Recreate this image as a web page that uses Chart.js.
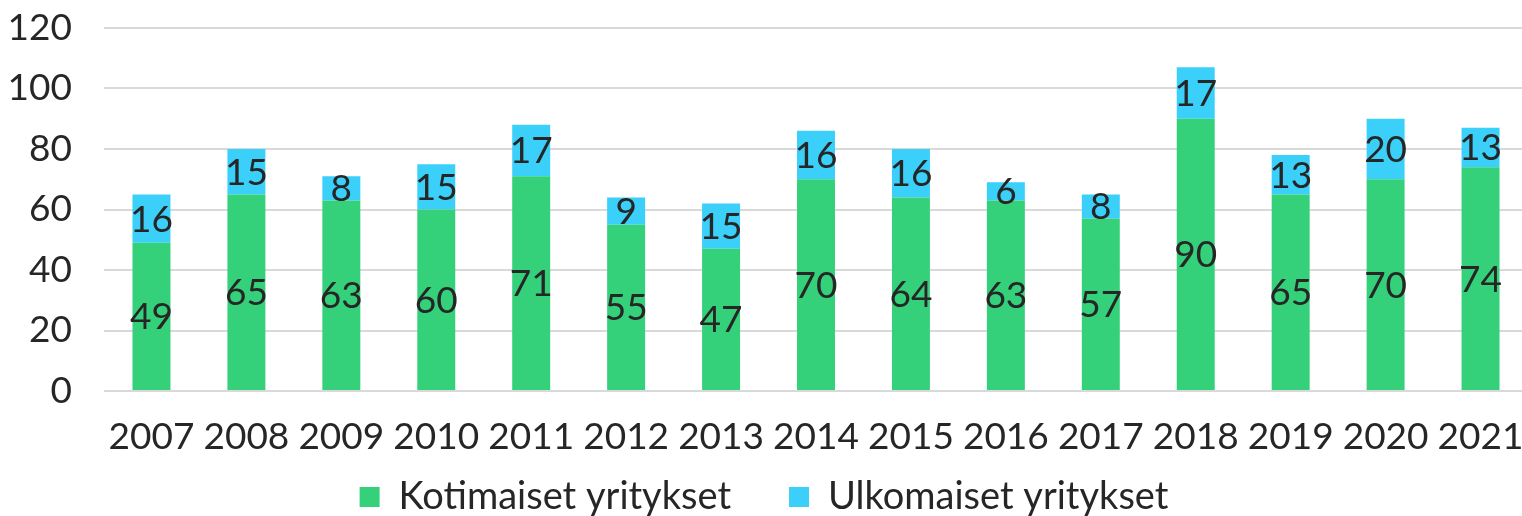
<!DOCTYPE html>
<html>
<head>
<meta charset="utf-8">
<script src="https://cdn.jsdelivr.net/npm/chart.js@4/dist/chart.umd.min.js"></script>
<style>
  html, body { margin: 0; padding: 0; background: #fff; overflow: hidden; }
  /* the original plot runs a few pixels past the right edge */
  #wrap { width: 1528px; height: 516px; }
</style>
</head>
<body>
<div id="wrap"><canvas id="chart"></canvas></div>
<script>
const years = ['2007', '2008', '2009', '2010', '2011', '2012', '2013', '2014', '2015', '2016', '2017', '2018', '2019', '2020', '2021'];
const domestic = [49, 65, 63, 60, 71, 55, 47, 70, 64, 63, 57, 90, 65, 70, 74];
const foreign = [16, 15, 8, 15, 17, 9, 15, 16, 16, 6, 8, 17, 13, 20, 13];
const yTicks = [0, 20, 40, 60, 80, 100, 120];

const FONT = 'Lato, "Noto Sans", sans-serif';
const TEXT = '#262626';

// draw the value in the middle of each bar segment
const segmentLabels = {
    id: 'segmentLabels',
    afterDatasetsDraw(chart) {
        const ctx = chart.ctx;
        ctx.save();
        ctx.font = '37px ' + FONT;
        ctx.fillStyle = TEXT;
        ctx.textAlign = 'center';
        ctx.textBaseline = 'middle';
        chart.data.datasets.forEach((ds, i) => {
            chart.getDatasetMeta(i).data.forEach((bar, j) => {
                const mid = (bar.y + bar.base) / 2;
                ctx.fillText(String(ds.data[j]), bar.x, mid + 1);
            });
        });
        ctx.restore();
    }
};

// wide gap between legend items but a compact legend box
const LEGEND_PAD = 58;
const LEGEND_TOP = 29;
const compactLegend = {
    id: 'compactLegend',
    afterInit(chart) {
        const lg = chart.legend;
        const fit = lg.fit.bind(lg);
        const draw = lg.draw.bind(lg);
        lg.fit = function () { fit(); this.height = 67; };
        lg.draw = function () {
            const t = this.top;
            this.top = t - (LEGEND_PAD - LEGEND_TOP);
            draw();
            this.top = t;
        };
    }
};

new Chart(document.getElementById('chart'), {
    type: 'bar',
    data: {
        labels: years,
        datasets: [
            {
                label: 'Kotimaiset yritykset',
                data: domestic,
                backgroundColor: '#34D17A'
            },
            {
                label: 'Ulkomaiset yritykset',
                data: foreign,
                backgroundColor: '#3AD0FA'
            }
        ]
    },
    options: {
        responsive: true,
        maintainAspectRatio: false,
        animation: false,
        layout: { padding: { top: 28, right: 0, left: 0, bottom: 0 } },
        datasets: {
            bar: { categoryPercentage: 1.0, barPercentage: 0.4 }
        },
        plugins: {
            legend: {
                position: 'bottom',
                labels: {
                    font: { family: FONT, size: 38 },
                    color: TEXT,
                    boxWidth: 20,
                    boxHeight: 20,
                    padding: LEGEND_PAD
                }
            },
            tooltip: { enabled: false }
        },
        scales: {
            x: {
                stacked: true,
                grid: { display: false, drawTicks: false },
                border: { display: false },
                afterFit(axis) {
                    axis.height = 58;
                    axis.paddingLeft = 0;
                    axis.paddingRight = 0;
                },
                ticks: {
                    font: { family: FONT, size: 37 },
                    color: TEXT,
                    maxRotation: 0,
                    autoSkip: false,
                    padding: 24
                }
            },
            y: {
                stacked: true,
                min: 0,
                max: 120,
                afterBuildTicks(axis) {
                    axis.ticks = yTicks.map(v => ({ value: v }));
                },
                afterFit(axis) {
                    axis.width = 104;
                    axis.paddingTop = 0;
                    axis.paddingBottom = 0;
                },
                grid: { color: '#d9d9d9', lineWidth: 2, drawTicks: false },
                border: { display: false },
                ticks: {
                    font: { family: FONT, size: 37 },
                    color: TEXT,
                    padding: 32
                }
            }
        }
    },
    plugins: [segmentLabels, compactLegend]
});
</script>
</body>
</html>
